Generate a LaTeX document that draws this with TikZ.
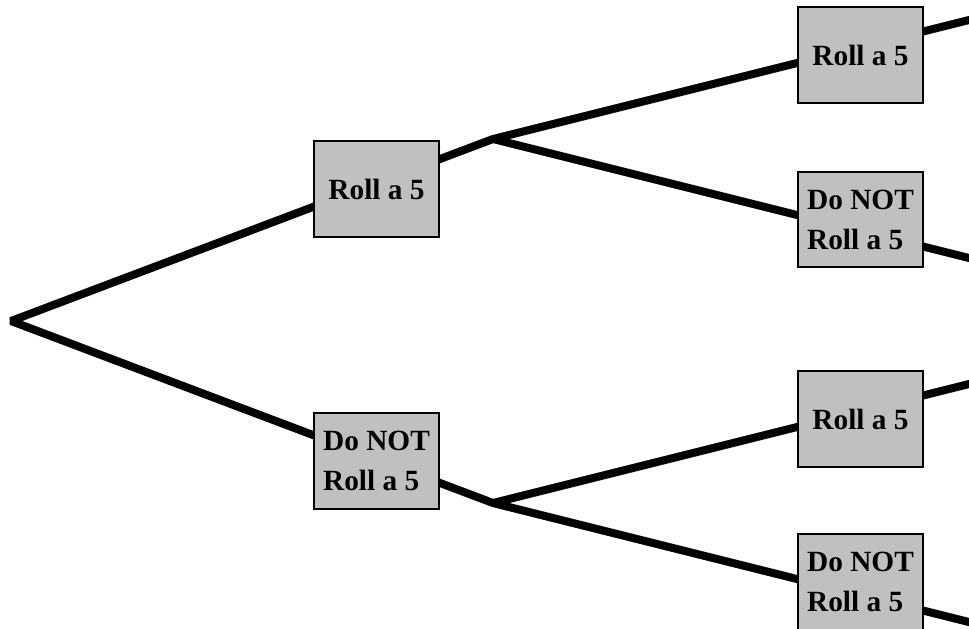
\documentclass[tikz,border=0pt]{standalone}
\usepackage{fontspec}
\setmainfont{Liberation Serif}
\definecolor{boxgray}{RGB}{192,192,192}
\begin{document}
\begin{tikzpicture}[x=0.75pt,y=-0.75pt,
  branch/.style={line width=6pt, line join=bevel, draw=black},
  outcome/.style={draw=black, line width=1.5pt, fill=boxgray,
    minimum width=94pt, minimum height=71.5pt,
    align=left, inner sep=0pt,
    font=\fontsize{22}{30}\selectfont\bfseries}]
\useasboundingbox (0,0) rectangle (969,628);
\clip (0,0) rectangle (969,628);
% branch points
\coordinate (root) at (11,321);
\coordinate (j1) at (493,139);
\coordinate (j2) at (493,503);
\coordinate (e1) at (990,14.75);
\coordinate (e2) at (990,263.25);
\coordinate (e3) at (990,378.75);
\coordinate (e4) at (990,627.25);
% connectors
\draw[branch] (e1) -- (j1) -- (root) -- (j2) -- (e3);
\draw[branch] (j1) -- (e2);
\draw[branch] (j2) -- (e4);
% outcome boxes
\node[outcome] (A) at (376.5,189) {Roll a 5};
\node[outcome] (B) at (376.5,461) {Do NOT\\Roll a 5};
\node[outcome] (C) at (860.5,55) {Roll a 5};
\node[outcome] (D) at (860.5,219.5) {Do NOT\\Roll a 5};
\node[outcome] (E) at (860.5,419) {Roll a 5};
\node[outcome] (F) at (860.5,582) {Do NOT\\Roll a 5};
\end{tikzpicture}
\end{document}
